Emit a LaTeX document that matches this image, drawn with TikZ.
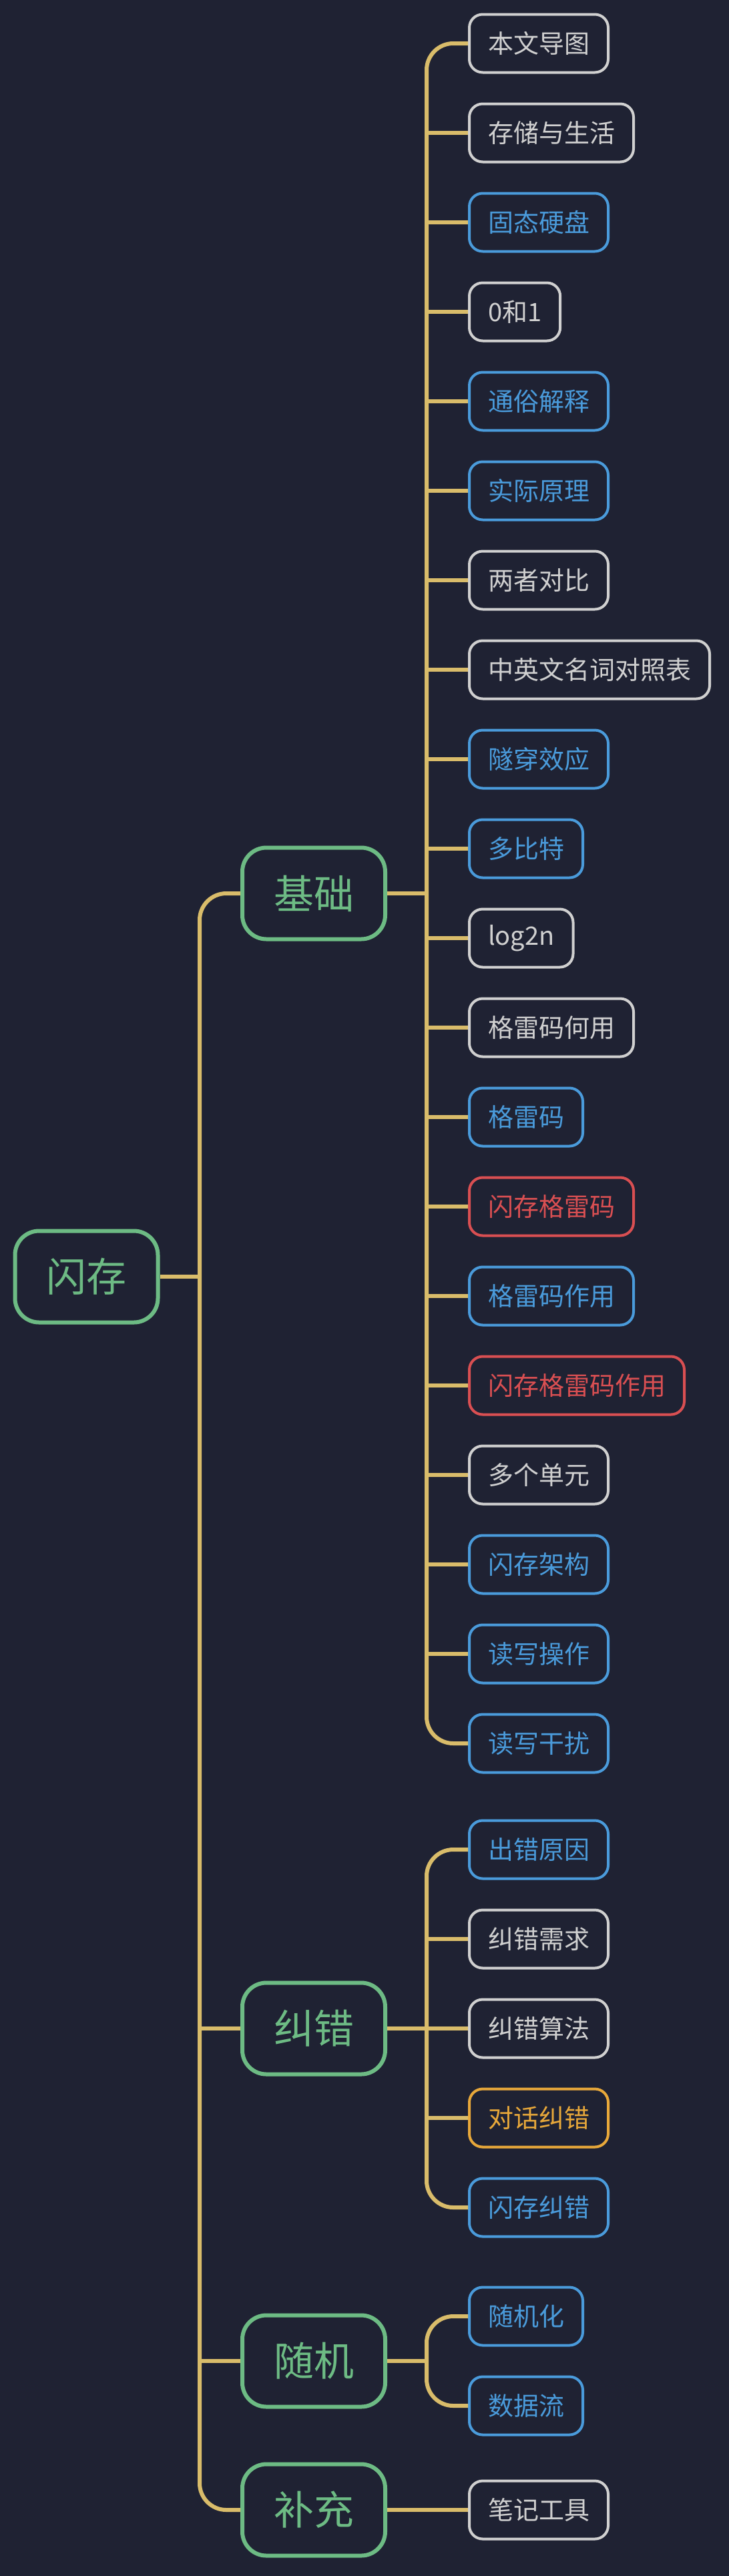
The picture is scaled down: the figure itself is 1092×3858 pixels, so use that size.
\documentclass[tikz,border=0pt]{standalone}
\usepackage{fontspec}
\setmainfont{Noto Sans CJK SC}
\definecolor{bg}{HTML}{1F2233}
\definecolor{gold}{HTML}{D9BC6A}
\definecolor{grn}{HTML}{6DBB84}
\definecolor{blu}{HTML}{4A9BDB}
\definecolor{wht}{HTML}{D0D0D0}
\definecolor{redc}{HTML}{D94F52}
\definecolor{org}{HTML}{E8A83A}
\tikzset{
 leaf/.style={draw=#1,text=#1,line width=4pt,rounded corners=20pt,minimum height=87pt,inner xsep=28pt,anchor=west,font=\fontsize{38}{44}\selectfont},
 topic/.style={draw=grn,text=grn,line width=6pt,rounded corners=36pt,minimum height=137pt,minimum width=214pt,font=\fontsize{60}{68}\selectfont},
 conn/.style={draw=gold,line width=6pt,rounded corners=40pt},
}
\begin{document}
\begin{tikzpicture}[x=1pt,y=-1pt]
\fill[bg] (0,0) rectangle (1092,3858);
\useasboundingbox (0,0) rectangle (1092,3858);
\node[topic] (root) at (129.5,1912) {闪存};
\node[topic] (g1) at (470,1338) {基础};
\node[topic] (g2) at (470,3038) {纠错};
\node[topic] (g3) at (470,3536) {随机};
\node[topic] (g4) at (470,3759) {补充};
% group 1
\node[leaf=wht] (a1) at (701,65) {本文导图};
\node[leaf=wht] (a2) at (701,199) {存储与生活};
\node[leaf=blu] (a3) at (701,333) {固态硬盘};
\node[leaf=wht] (a4) at (701,467) {0和1};
\node[leaf=blu] (a5) at (701,601) {通俗解释};
\node[leaf=blu] (a6) at (701,735) {实际原理};
\node[leaf=wht] (a7) at (701,869) {两者对比};
\node[leaf=wht] (a8) at (701,1003) {中英文名词对照表};
\node[leaf=blu] (a9) at (701,1137) {隧穿效应};
\node[leaf=blu] (a10) at (701,1271) {多比特};
\node[leaf=wht] (a11) at (701,1405) {log2n};
\node[leaf=wht] (a12) at (701,1539) {格雷码何用};
\node[leaf=blu] (a13) at (701,1673) {格雷码};
\node[leaf=redc] (a14) at (701,1807) {闪存格雷码};
\node[leaf=blu] (a15) at (701,1941) {格雷码作用};
\node[leaf=redc] (a16) at (701,2075) {闪存格雷码作用};
\node[leaf=wht] (a17) at (701,2209) {多个单元};
\node[leaf=blu] (a18) at (701,2343) {闪存架构};
\node[leaf=blu] (a19) at (701,2477) {读写操作};
\node[leaf=blu] (a20) at (701,2611) {读写干扰};
% group 2
\node[leaf=blu] (b1) at (701,2770) {出错原因};
\node[leaf=wht] (b2) at (701,2904) {纠错需求};
\node[leaf=wht] (b3) at (701,3038) {纠错算法};
\node[leaf=org] (b4) at (701,3172) {对话纠错};
\node[leaf=blu] (b5) at (701,3306) {闪存纠错};
% group 3
\node[leaf=blu] (c1) at (701,3469) {随机化};
\node[leaf=blu] (c2) at (701,3603) {数据流};
% group 4
\node[leaf=wht] (d1) at (701,3759) {笔记工具};
% spine coordinates
\coordinate (s0) at (299,1912);
\coordinate (s1) at (639,1338);
\coordinate (s2) at (639,3038);
\coordinate (s3) at (639,3536);
\draw[conn] (root.east) -- (s0);
\draw[conn] (g1.west) -| (s0);
\draw[conn] (g4.west) -| (s0);
\draw[conn] (g2.west) -- (s0 |- g2.west);
\draw[conn] (g3.west) -- (s0 |- g3.west);
% group1
\draw[conn] (g1.east) -- (s1);
\draw[conn] (a1.west) -| (s1);
\draw[conn] (a20.west) -| (s1);
\foreach \n in {a2,a3,a4,a5,a6,a7,a8,a9,a10,a11,a12,a13,a14,a15,a16,a17,a18,a19}
  \draw[conn] (\n.west) -- (s1 |- \n.west);
% group2
\draw[conn] (g2.east) -- (s2);
\draw[conn] (b1.west) -| (s2);
\draw[conn] (b5.west) -| (s2);
\foreach \n in {b2,b3,b4}
  \draw[conn] (\n.west) -- (s2 |- \n.west);
% group3
\draw[conn] (g3.east) -- (s3);
\draw[conn] (c1.west) -| (s3);
\draw[conn] (c2.west) -| (s3);
% group4
\draw[conn] (g4.east) -- (d1.west);
\end{tikzpicture}
\end{document}
